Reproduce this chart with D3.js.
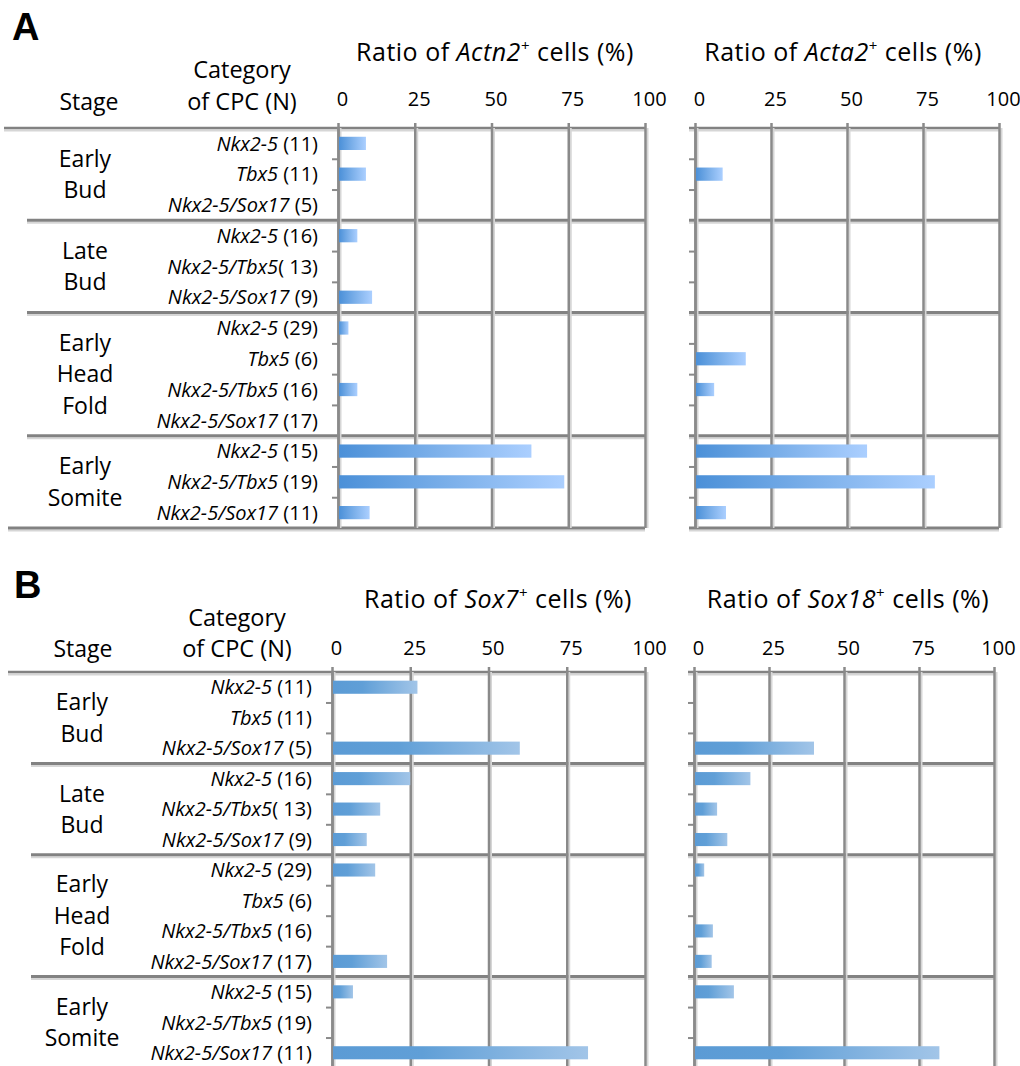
<!DOCTYPE html>
<html>
<head>
<meta charset="utf-8">
<script src="https://cdn.jsdelivr.net/npm/d3@7"></script>
<style>
body { margin: 0; background: #fff; }
svg { display: block; font-family: "Open Sans", Lato, sans-serif; }
</style>
</head>
<body>
<script>
var stageNames = [["Early", "Bud"], ["Late", "Bud"], ["Early", "Head", "Fold"], ["Early", "Somite"]];
var stageSizes = [3, 3, 4, 3];
var cpcGenes = ["Nkx2-5", "Tbx5", "Nkx2-5/Sox17", "Nkx2-5", "Nkx2-5/Tbx5", "Nkx2-5/Sox17",
	"Nkx2-5", "Tbx5", "Nkx2-5/Tbx5", "Nkx2-5/Sox17", "Nkx2-5", "Nkx2-5/Tbx5", "Nkx2-5/Sox17"];
var cpcCounts = [" (11)", " (11)", " (5)", " (16)", "( 13)", " (9)",
	" (29)", " (6)", " (16)", " (17)", " (15)", " (19)", " (11)"];

// % of cells
var actn2 = [9.1, 9.1, 0, 6.3, 0, 11.1, 3.4, 0, 6.3, 0, 63, 73.7, 10.3];
var acta2 = [0, 9.1, 0, 0, 0, 0, 0, 16.7, 6.3, 0, 56.6, 78.9, 10.2];
var sox7 = [27.3, 0, 60, 25, 15.4, 11.1, 13.8, 0, 0, 17.6, 6.7, 0, 81.8];
var sox18 = [0, 0, 40, 18.8, 7.7, 11.1, 3.4, 0, 6.3, 5.9, 13.3, 0, 81.8];
var xTicks = [0, 25, 50, 75, 100];

var w = 1020;
var h = 1066;
var gridCol = "#8a8a8a";
var shadowCol = "#d6d6d6";

var svg = d3.select("body")
	.append("svg")
	.attr("width", w)
	.attr("height", h);

var defs = svg.append("defs");
function addGrad(id, stops) {
	var g = defs.append("linearGradient").attr("id", id)
		.attr("x1", "0%").attr("x2", "100%").attr("y1", "0%").attr("y2", "0%");
	stops.forEach(function(s) {
		g.append("stop").attr("offset", s[0]).attr("stop-color", s[1]);
	});
}
addGrad("gradA", [[0, "#4b90d8"], [0.5, "#7cb0ea"], [1, "#abcfff"]]);
addGrad("gradB", [[0, "#5b9bd5"], [0.35, "#609fd7"], [1, "#a2c5e8"]]);

var rows = d3.range(cpcGenes.length);
var groupEdges = [0].concat(Array.from(d3.cumsum(stageSizes)));

var panels = [
	{letter: "A", letterX: 12, letterY: 40, top: 128, bottom: 528,
		headY1: 78, headY2: 110, stageHeadX: 89, catX: 242, stageX: 85, labelX: 318,
		titleY: 61, tickY: 106, topX0: 4, groupX0: 27, bottomX0: 8, grad: "gradA",
		charts: [
			{x0: 338, x1: 645, titleX: 495, gene: "Actn2", vals: actn2},
			{x0: 695, x1: 999, titleX: 843, gene: "Acta2", vals: acta2}
		]},
	{letter: "B", letterX: 14, letterY: 598, top: 672, bottom: 1068,
		headY1: 626, headY2: 657, stageHeadX: 83, catX: 237, stageX: 82, labelX: 312,
		titleY: 608, tickY: 655, topX0: 8, groupX0: 31, bottomX0: 8, grad: "gradB",
		charts: [
			{x0: 332, x1: 645, titleX: 498, gene: "Sox7", vals: sox7},
			{x0: 694, x1: 994, titleX: 848, gene: "Sox18", vals: sox18}
		]}
];

function hline(x0, x1, yy, wdt) {
	svg.append("line").attr("x1", x0).attr("x2", x1).attr("y1", yy + 2.5).attr("y2", yy + 2.5)
		.attr("stroke", shadowCol).attr("stroke-width", 2);
	svg.append("line").attr("x1", x0).attr("x2", x1).attr("y1", yy).attr("y2", yy)
		.attr("stroke", "#828282").attr("stroke-width", wdt);
}

panels.forEach(function(p) {
	var y = d3.scaleBand().domain(rows).range([p.top, p.bottom])
		.paddingInner(0.57).paddingOuter(0.285);
	var yEdge = d3.scaleLinear().domain([0, rows.length]).range([p.top, p.bottom]);

	svg.append("text")
		.attr("x", p.letterX).attr("y", p.letterY)
		.attr("font-family", "'Liberation Sans', Arial, sans-serif")
		.attr("font-weight", "bold").attr("font-size", 38)
		.text(p.letter);

	svg.append("text").attr("x", p.stageHeadX).attr("y", p.headY2)
		.attr("text-anchor", "middle").attr("font-size", 23).text("Stage");
	svg.append("text").attr("x", p.catX).attr("y", p.headY1)
		.attr("text-anchor", "middle").attr("font-size", 23.5).text("Category");
	svg.append("text").attr("x", p.catX).attr("y", p.headY2)
		.attr("text-anchor", "middle").attr("font-size", 23.5).text("of CPC (N)");

	// row labels
	var lab = svg.selectAll(null)
		.data(rows)
		.enter()
		.append("text")
		.attr("x", p.labelX)
		.attr("y", function(d) { return y(d) + y.bandwidth() / 2; })
		.attr("dy", "0.36em")
		.attr("text-anchor", "end")
		.attr("font-size", 20);
	lab.append("tspan").attr("font-style", "italic").text(function(d) { return cpcGenes[d]; });
	lab.append("tspan").text(function(d) { return cpcCounts[d]; });

	// stage labels
	stageNames.forEach(function(lines, gi) {
		var cy = (yEdge(groupEdges[gi]) + yEdge(groupEdges[gi + 1])) / 2;
		var t = svg.append("text").attr("text-anchor", "middle").attr("font-size", 23);
		lines.forEach(function(s, j) {
			t.append("tspan").attr("x", p.stageX)
				.attr("y", cy + (j - (lines.length - 1) / 2) * 31.5)
				.attr("dy", "0.36em").text(s);
		});
	});

	// horizontal separators
	var c1 = p.charts[0], c2 = p.charts[1];
	hline(p.topX0, c1.x1, p.top, 2.5);
	hline(c2.x0 - 6, c2.x1, p.top, 2.5);
	groupEdges.slice(1, -1).forEach(function(k) {
		hline(p.groupX0, c1.x1, yEdge(k), 3);
		hline(c2.x0 - 6, c2.x1, yEdge(k), 3);
	});
	hline(p.bottomX0, c1.x1, p.bottom, 3);
	hline(c2.x0 - 6, c2.x1, p.bottom, 3);

	p.charts.forEach(function(c) {
		var x = d3.scaleLinear().domain([0, 100]).range([c.x0, c.x1]);

		var t = svg.append("text").attr("x", c.titleX).attr("y", p.titleY)
			.attr("text-anchor", "middle").attr("font-size", 25)
			.attr("letter-spacing", 0.5);
		t.append("tspan").text("Ratio of ");
		t.append("tspan").attr("font-style", "italic").text(c.gene);
		t.append("tspan").attr("font-size", 15).attr("dy", -10).text("+");
		t.append("tspan").attr("dy", 10).text(" cells (%)");

		// gridline shadows
		svg.selectAll(null)
			.data(xTicks)
			.enter()
			.append("line")
			.attr("x1", function(d) { return x(d) + 2.5; })
			.attr("x2", function(d) { return x(d) + 2.5; })
			.attr("y1", p.top)
			.attr("y2", p.bottom)
			.attr("stroke", shadowCol)
			.attr("stroke-width", 2);

		var ax = svg.append("g")
			.attr("transform", "translate(0," + (p.top - 5) + ")")
			.call(d3.axisTop(x).tickValues(xTicks)
				.tickSizeInner(-(p.bottom - p.top + 5)).tickSizeOuter(0)
				.tickPadding(p.top - 5 - p.tickY));
		ax.attr("font-family", null).attr("font-size", 20);
		ax.select(".domain").remove();
		ax.selectAll("line").attr("stroke", gridCol).attr("stroke-width", 2.5);
		ax.selectAll("text").attr("fill", "#000").attr("dx", 4);

		// left axis with row ticks
		var inner = d3.range(1, rows.length).filter(function(k) { return groupEdges.indexOf(k) < 0; });
		var lax = svg.append("g")
			.attr("transform", "translate(" + c.x0 + ",0)")
			.call(d3.axisLeft(yEdge).tickValues(inner).tickSizeInner(6).tickSizeOuter(0)
				.tickFormat(""));
		lax.select(".domain").attr("stroke", gridCol).attr("stroke-width", 2.5);
		lax.selectAll("line").attr("stroke", gridCol).attr("stroke-width", 2);

		svg.selectAll(null)
			.data(rows)
			.enter()
			.append("rect")
			.attr("x", x(0) + 1)
			.attr("y", function(d) { return y(d); })
			.attr("height", y.bandwidth())
			.attr("width", function(d) { return Math.max(0, x(c.vals[d]) - x(0) - 1); })
			.attr("fill", "url(#" + p.grad + ")");
	});
});
</script>
</body>
</html>
